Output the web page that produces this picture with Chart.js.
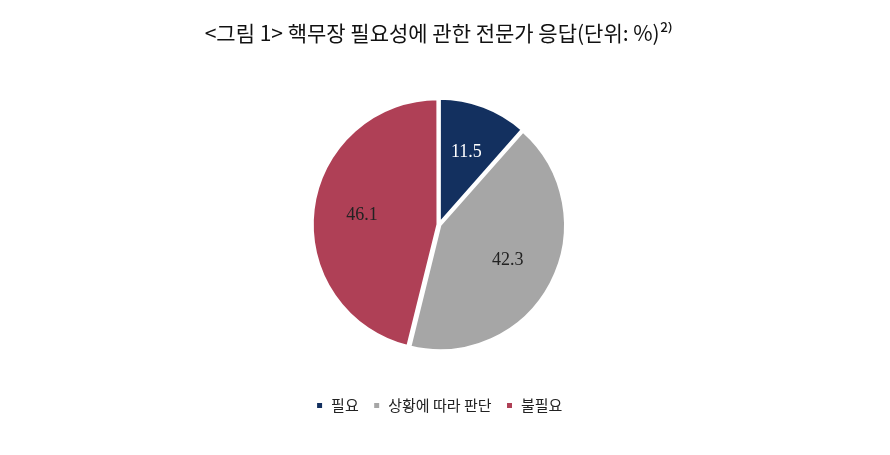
<!DOCTYPE html>
<html><head><meta charset="utf-8">
<script src="https://cdn.jsdelivr.net/npm/chart.js@4/dist/chart.umd.min.js"></script>
<style>html,body{margin:0;padding:0;background:#fff}#w{width:890px;height:455px}</style>
</head><body><div id="w"><canvas id="c"></canvas></div>
<script>
const categories=['필요','상황에 따라 판단','불필요'];
const values=[11.5,42.3,46.1];
const colors=['#13305F','#A6A6A6','#AF4056'];
const labelPlugin={id:'lbl',afterDatasetsDraw(chart){
  const ctx=chart.ctx;const meta=chart.getDatasetMeta(0);
  ctx.save();ctx.font='18px "Liberation Serif", "DejaVu Serif", serif';ctx.textAlign='center';ctx.textBaseline='middle';
  meta.data.forEach((a,i)=>{const p=a.getProps(['x','y','startAngle','endAngle','outerRadius']);
    const m=(p.startAngle+p.endAngle)/2;const r=p.outerRadius*0.62;
    ctx.fillStyle=i===0?'#fff':'#222';
    ctx.fillText(values[i].toFixed(1),p.x+Math.cos(m)*r,p.y+Math.sin(m)*r);});
  ctx.restore();}};
new Chart(document.getElementById('c'),{type:'pie',
data:{labels:categories,datasets:[{data:values,backgroundColor:colors,borderColor:'#fff',borderWidth:3,offset:4,radius:125}]},
options:{responsive:true,maintainAspectRatio:false,animation:false,
 layout:{padding:{top:0,bottom:32,right:12}},
 plugins:{tooltip:{enabled:false},
  title:{display:true,text:'<그림 1> 핵무장 필요성에 관한 전문가 응답(단위: %)²⁾',color:'#111',
   font:{family:'"Noto Sans CJK KR", serif',size:21,weight:'normal'},padding:{top:20,bottom:20}},
  legend:{position:'bottom',labels:{boxWidth:8,boxHeight:8,color:'#222',padding:14,
   font:{family:'"Noto Sans CJK KR", sans-serif',size:15}}}}},
plugins:[labelPlugin]});
</script></body></html>
